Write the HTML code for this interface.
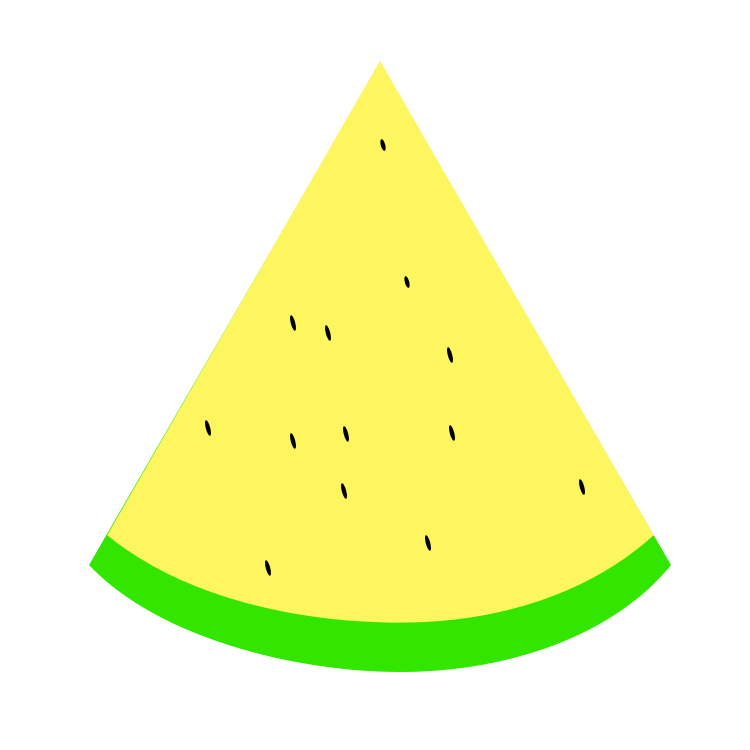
<!DOCTYPE html>
<html><head><meta charset="utf-8"><style>
html,body{margin:0;padding:0;background:#fff;width:750px;height:750px;overflow:hidden}
svg{display:block}
</style></head><body>
<svg id="art" width="750" height="750" viewBox="0 0 750 750">
  <path fill="#33e600" d="M380,62 L671,565 C610,640 500,672 400,672 C300,672 160,640 89,565 Z"/>
  <path fill="#fdf65f" stroke="#fdf65f" stroke-width="1.2" d="M380,62 L653,535 C590,592 500,622 400,622 C300,622 185,598 108,535 Z"/>
  <g id="seeds"></g>
</svg>
<script>
const seedX = [383,407,293,328,450,208,293,346,452,344,582,428,268];
const seedY = [145,282,323,333,355,428,441,434,433,491,487,543,568];
const seedSize = [6,6,8,8,8,8,8,8,8,8,8,8,8];
const g = document.getElementById('seeds');
for (let i = 0; i < seedX.length; i++) {
  const e = document.createElementNS('http://www.w3.org/2000/svg','ellipse');
  e.setAttribute('cx', seedX[i]);
  e.setAttribute('cy', seedY[i]);
  e.setAttribute('rx', 2.2);
  e.setAttribute('ry', seedSize[i]);
  e.setAttribute('fill', '#000');
  e.setAttribute('transform', 'rotate(-15 ' + seedX[i] + ' ' + seedY[i] + ')');
  
  
  g.appendChild(e);
}
</script>
</body></html>
